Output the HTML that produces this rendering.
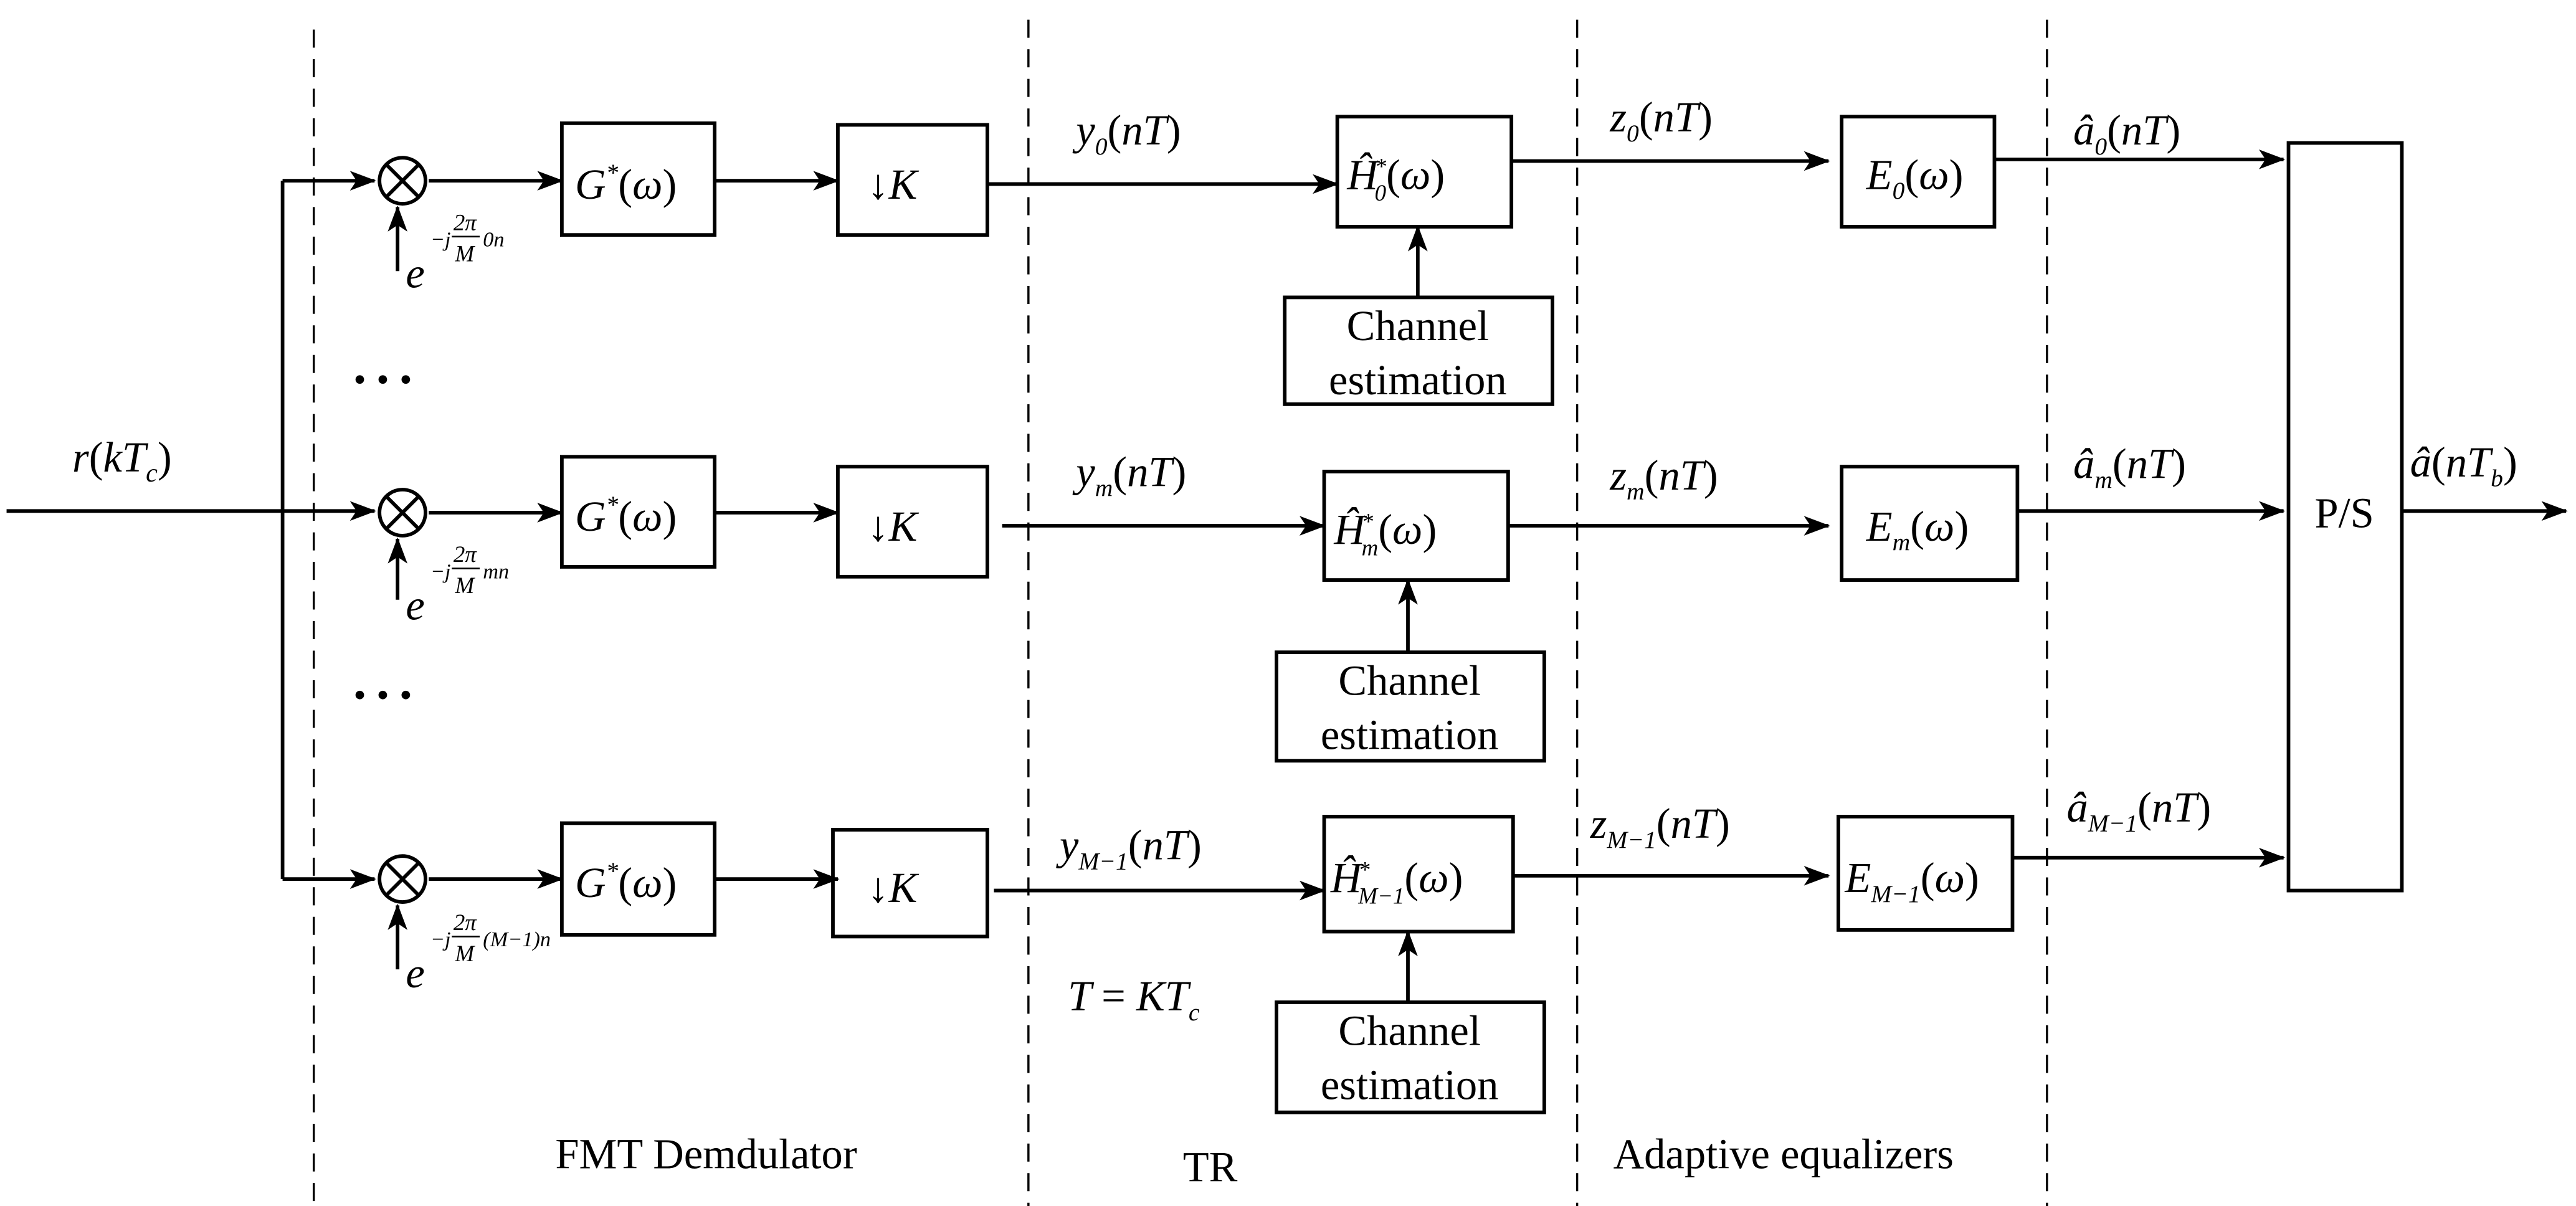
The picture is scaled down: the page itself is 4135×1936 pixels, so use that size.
<!DOCTYPE html>
<html><head><meta charset="utf-8"><style>
html,body{margin:0;padding:0;background:#fff;}
svg{display:block;}
text{font-family:"Liberation Serif",serif;fill:#000;}
.i{font-style:italic;}
</style></head><body>
<svg width="4135" height="1936" viewBox="0 0 1568 734" preserveAspectRatio="none" xmlns="http://www.w3.org/2000/svg">
<defs>
<marker id="a" markerWidth="16" markerHeight="12" refX="15" refY="6" orient="auto" markerUnits="userSpaceOnUse">
<path d="M0,0 L16,6 L0,12 L4,6 Z" fill="#000"/>
</marker>
</defs>
<g stroke="#000" stroke-width="1.3" stroke-dasharray="11,7" fill="none">
<line x1="191" y1="18" x2="191" y2="734"/>
<line x1="626" y1="12" x2="626" y2="734"/>
<line x1="960" y1="12" x2="960" y2="734"/>
<line x1="1246" y1="12" x2="1246" y2="734"/>
</g>
<g stroke="#000" stroke-width="2.2" fill="none">
<!-- input -->
<line x1="4" y1="311" x2="172" y2="311"/>
<line x1="172" y1="110" x2="172" y2="535"/>
<line x1="172" y1="110" x2="228" y2="110" marker-end="url(#a)"/>
<line x1="172" y1="311" x2="228" y2="311" marker-end="url(#a)"/>
<line x1="172" y1="535" x2="228" y2="535" marker-end="url(#a)"/>
<!-- mixers -->
<circle cx="245" cy="110" r="14"/>
<circle cx="245" cy="312" r="14"/>
<circle cx="245" cy="535" r="14"/>
<path d="M235,100 L255,120 M255,100 L235,120"/>
<path d="M235,302 L255,322 M255,302 L235,322"/>
<path d="M235,525 L255,545 M255,525 L235,545"/>
<line x1="242" y1="165" x2="242" y2="126" marker-end="url(#a)"/>
<line x1="242" y1="365" x2="242" y2="328" marker-end="url(#a)"/>
<line x1="242" y1="590" x2="242" y2="551" marker-end="url(#a)"/>
<!-- mixer -> G -->
<line x1="261" y1="110" x2="342" y2="110" marker-end="url(#a)"/>
<line x1="261" y1="312" x2="342" y2="312" marker-end="url(#a)"/>
<line x1="261" y1="535" x2="342" y2="535" marker-end="url(#a)"/>
<!-- G boxes -->
<rect x="342" y="75" width="93" height="68"/>
<rect x="342" y="278" width="93" height="67"/>
<rect x="342" y="501" width="93" height="68"/>
<!-- G -> K -->
<line x1="435" y1="110" x2="510" y2="110" marker-end="url(#a)"/>
<line x1="435" y1="312" x2="510" y2="312" marker-end="url(#a)"/>
<line x1="435" y1="535" x2="510" y2="535" marker-end="url(#a)"/>
<!-- K boxes -->
<rect x="510" y="76" width="91" height="67"/>
<rect x="510" y="284" width="91" height="67"/>
<rect x="507" y="505" width="94" height="65"/>
<!-- K -> H -->
<line x1="601" y1="112" x2="814" y2="112" marker-end="url(#a)"/>
<line x1="610" y1="320" x2="806" y2="320" marker-end="url(#a)"/>
<line x1="605" y1="542" x2="806" y2="542" marker-end="url(#a)"/>
<!-- H boxes -->
<rect x="814" y="71" width="106" height="67"/>
<rect x="806" y="287" width="112" height="66"/>
<rect x="806" y="497" width="115" height="70"/>
<!-- channel est -->
<rect x="782" y="181" width="163" height="65"/>
<rect x="777" y="397" width="163" height="66"/>
<rect x="777" y="610" width="163" height="67"/>
<line x1="863" y1="181" x2="863" y2="138" marker-end="url(#a)"/>
<line x1="857" y1="397" x2="857" y2="353" marker-end="url(#a)"/>
<line x1="857" y1="610" x2="857" y2="567" marker-end="url(#a)"/>
<!-- H -> E -->
<line x1="920" y1="98" x2="1113" y2="98" marker-end="url(#a)"/>
<line x1="918" y1="320" x2="1113" y2="320" marker-end="url(#a)"/>
<line x1="921" y1="533" x2="1113" y2="533" marker-end="url(#a)"/>
<!-- E boxes -->
<rect x="1121" y="71" width="93" height="67"/>
<rect x="1121" y="284" width="107" height="69"/>
<rect x="1119" y="497" width="106" height="69"/>
<!-- E -> P/S -->
<line x1="1214" y1="97" x2="1390" y2="97" marker-end="url(#a)"/>
<line x1="1228" y1="311" x2="1390" y2="311" marker-end="url(#a)"/>
<line x1="1225" y1="522" x2="1390" y2="522" marker-end="url(#a)"/>
<rect x="1393" y="87" width="69" height="455"/>
<line x1="1462" y1="311" x2="1562" y2="311" marker-end="url(#a)"/>
</g>
<!-- dots -->
<g fill="#000">
<circle cx="219" cy="231" r="2.6"/><circle cx="233" cy="231" r="2.6"/><circle cx="247" cy="231" r="2.6"/>
<circle cx="219" cy="423" r="2.6"/><circle cx="233" cy="423" r="2.6"/><circle cx="247" cy="423" r="2.6"/>
</g>
<!-- text -->
<g font-size="26">
<text x="44" y="287" class="i">r<tspan font-style="normal">(</tspan>kT<tspan font-size="16" dy="6">c</tspan><tspan dy="-6" font-style="normal">)</tspan></text>

<text x="247" y="175" class="i" font-size="26">e</text>
<text x="262" y="150" class="i" font-size="13">−j</text>
<text x="276" y="140" class="i" font-size="14">2π</text>
<line x1="275" y1="144" x2="292" y2="144" stroke="#000" stroke-width="1"/>
<text x="277" y="159" class="i" font-size="14">M</text>
<text x="294" y="150" class="i" font-size="13">0n</text>

<text x="247" y="377" class="i" font-size="26">e</text>
<text x="262" y="352" class="i" font-size="13">−j</text>
<text x="276" y="342" class="i" font-size="14">2π</text>
<line x1="275" y1="346" x2="292" y2="346" stroke="#000" stroke-width="1"/>
<text x="277" y="361" class="i" font-size="14">M</text>
<text x="294" y="352" class="i" font-size="13">mn</text>

<text x="247" y="601" class="i" font-size="26">e</text>
<text x="262" y="576" class="i" font-size="13">−j</text>
<text x="276" y="566" class="i" font-size="14">2π</text>
<line x1="275" y1="570" x2="292" y2="570" stroke="#000" stroke-width="1"/>
<text x="277" y="585" class="i" font-size="14">M</text>
<text x="294" y="576" class="i" font-size="13">(M−1)n</text>

<text x="350" y="121" class="i">G<tspan font-size="15" dy="-11">*</tspan><tspan dy="11" font-style="normal">(</tspan>ω<tspan font-style="normal">)</tspan></text>
<text x="350" y="323" class="i">G<tspan font-size="15" dy="-11">*</tspan><tspan dy="11" font-style="normal">(</tspan>ω<tspan font-style="normal">)</tspan></text>
<text x="350" y="546" class="i">G<tspan font-size="15" dy="-11">*</tspan><tspan dy="11" font-style="normal">(</tspan>ω<tspan font-style="normal">)</tspan></text>

<text x="528" y="121">↓<tspan class="i">K</tspan></text>
<text x="528" y="329">↓<tspan class="i">K</tspan></text>
<text x="528" y="549">↓<tspan class="i">K</tspan></text>

<text x="655" y="88" class="i">y<tspan font-size="15" dy="6">0</tspan><tspan dy="-6" font-style="normal">(</tspan>nT<tspan font-style="normal">)</tspan></text>
<text x="655" y="296" class="i">y<tspan font-size="15" dy="6">m</tspan><tspan dy="-6" font-style="normal">(</tspan>nT<tspan font-style="normal">)</tspan></text>
<text x="645" y="523" class="i">y<tspan font-size="15" dy="6">M−1</tspan><tspan dy="-6" font-style="normal">(</tspan>nT<tspan font-style="normal">)</tspan></text>
<text x="650" y="615" class="i">T <tspan font-style="normal">=</tspan> KT<tspan font-size="15" dy="6">c</tspan></text>

<text x="820" y="115" class="i">Ĥ<tspan font-size="14" dx="-2" dy="-9">*</tspan><tspan font-size="14" dx="-7" dy="16">0</tspan><tspan dy="-7" font-style="normal">(</tspan>ω<tspan font-style="normal">)</tspan></text>
<text x="812" y="331" class="i">Ĥ<tspan font-size="14" dx="-2" dy="-9">*</tspan><tspan font-size="14" dx="-7" dy="16">m</tspan><tspan dy="-7" font-style="normal">(</tspan>ω<tspan font-style="normal">)</tspan></text>
<text x="810" y="543" class="i">Ĥ<tspan font-size="14" dx="-2" dy="-9">*</tspan><tspan font-size="14" dx="-7" dy="16">M−1</tspan><tspan dy="-7" font-style="normal">(</tspan>ω<tspan font-style="normal">)</tspan></text>

<g text-anchor="middle">
<text x="863" y="207">Channel</text><text x="863" y="240">estimation</text>
<text x="858" y="423">Channel</text><text x="858" y="456">estimation</text>
<text x="858" y="636">Channel</text><text x="858" y="669">estimation</text>
</g>

<text x="980" y="80" class="i">z<tspan font-size="15" dy="6">0</tspan><tspan dy="-6" font-style="normal">(</tspan>nT<tspan font-style="normal">)</tspan></text>
<text x="980" y="298" class="i">z<tspan font-size="15" dy="6">m</tspan><tspan dy="-6" font-style="normal">(</tspan>nT<tspan font-style="normal">)</tspan></text>
<text x="968" y="510" class="i">z<tspan font-size="15" dy="6">M−1</tspan><tspan dy="-6" font-style="normal">(</tspan>nT<tspan font-style="normal">)</tspan></text>

<text x="1136" y="115" class="i">E<tspan font-size="15" dy="6">0</tspan><tspan dy="-6" font-style="normal">(</tspan>ω<tspan font-style="normal">)</tspan></text>
<text x="1136" y="329" class="i">E<tspan font-size="15" dy="6">m</tspan><tspan dy="-6" font-style="normal">(</tspan>ω<tspan font-style="normal">)</tspan></text>
<text x="1123" y="543" class="i">E<tspan font-size="15" dy="6">M−1</tspan><tspan dy="-6" font-style="normal">(</tspan>ω<tspan font-style="normal">)</tspan></text>

<text x="1262" y="88" class="i">â<tspan font-size="15" dy="6">0</tspan><tspan dy="-6" font-style="normal">(</tspan>nT<tspan font-style="normal">)</tspan></text>
<text x="1262" y="291" class="i">â<tspan font-size="15" dy="6">m</tspan><tspan dy="-6" font-style="normal">(</tspan>nT<tspan font-style="normal">)</tspan></text>
<text x="1258" y="500" class="i">â<tspan font-size="15" dy="6">M−1</tspan><tspan dy="-6" font-style="normal">(</tspan>nT<tspan font-style="normal">)</tspan></text>
<text x="1467" y="290" class="i">â<tspan font-style="normal">(</tspan>nT<tspan font-size="15" dy="6">b</tspan><tspan dy="-6" font-style="normal">)</tspan></text>

<text x="1427" y="321" text-anchor="middle">P/S</text>

<text x="338" y="711">FMT Demdulator</text>
<text x="720" y="719">TR</text>
<text x="982" y="711">Adaptive equalizers</text>
</g>
</svg>
</body></html>
